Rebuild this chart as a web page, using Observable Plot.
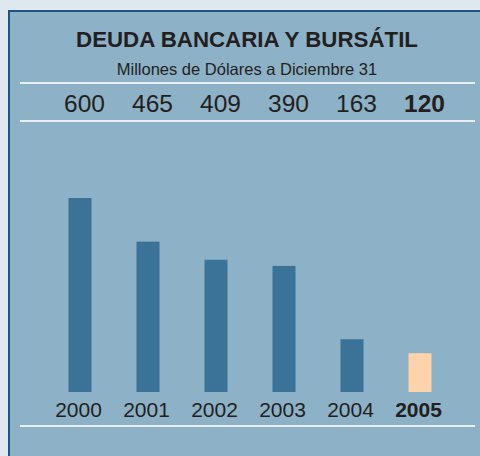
<!DOCTYPE html>
<html>
<head>
<meta charset="utf-8">
<script src="https://cdn.jsdelivr.net/npm/d3@7"></script>
<script src="https://cdn.jsdelivr.net/npm/@observablehq/plot@0.6"></script>
<style>
  html, body { margin: 0; padding: 0; }
  body { width: 480px; height: 456px; background: #dfe7ef; position: relative; overflow: hidden;
         font-family: "Liberation Sans", Arial, sans-serif; color: #231f20; }
  #panel { position: absolute; left: 8px; top: 10px; width: 490px; height: 470px;
           background: #8db1c6; border-top: 2.5px solid #1f5285; border-left: 2.5px solid #1f5285; box-sizing: border-box; }
  .title { position: absolute; left: 0; width: 494px; top: 29px; text-align: center;
           font-weight: bold; font-size: 22.3px; line-height: 1; }
  .subtitle { position: absolute; left: 0; width: 494px; top: 61px; text-align: center;
              font-size: 16.5px; line-height: 1; }
  .rule { position: absolute; left: 20px; width: 455px; height: 2px; background: #e9f0f5; }
  #chart { position: absolute; left: 0; top: 0; }
</style>
</head>
<body>
<div id="panel"></div>
<div class="title">DEUDA BANCARIA Y BURSÁTIL</div>
<div class="subtitle">Millones de Dólares a Diciembre 31</div>
<div class="rule" style="top:82px"></div>
<div class="rule" style="top:120px"></div>
<div class="rule" style="top:425px"></div>
<div id="chart"></div>
<script>
const years = ["2000", "2001", "2002", "2003", "2004", "2005"];
const values = [600, 465, 409, 390, 163, 120];
const highlightYear = "2005";

const data = years.map((y, i) => ({year: y, value: values[i], kind: y === highlightYear ? "highlight" : "normal"}));
const normal = data.filter(d => d.kind === "normal");
const hi = data.filter(d => d.kind === "highlight");

const chart = Plot.plot({
  width: 480,
  height: 456,
  marginTop: 198,
  marginBottom: 64,
  marginLeft: 46,
  marginRight: 26,
  style: {background: "transparent", fontFamily: "'Liberation Sans', Arial, sans-serif", overflow: "visible"},
  x: {domain: years, padding: 0, axis: null},
  y: {domain: [0, 600], axis: null},
  color: {domain: ["normal", "highlight"], range: ["#3a7298", "#fdd3ab"]},
  marks: [
    Plot.barY(data, {x: "year", y: "value", fill: "kind", insetLeft: 22.5, insetRight: 22.5}),
    Plot.text(normal, {x: "year", text: d => String(d.value), frameAnchor: "top", lineAnchor: "bottom", dy: -87, dx: 4, fontSize: 24.5, fill: "#231f20"}),
    Plot.text(hi, {x: "year", text: d => String(d.value), frameAnchor: "top", lineAnchor: "bottom", dy: -87, dx: 4, fontSize: 24.5, fontWeight: "bold", fill: "#231f20"}),
    Plot.text(normal, {x: "year", text: "year", frameAnchor: "bottom", lineAnchor: "bottom", dy: 24, dx: -2, fontSize: 21, fill: "#231f20"}),
    Plot.text(hi, {x: "year", text: "year", frameAnchor: "bottom", lineAnchor: "bottom", dy: 24, dx: -2, fontSize: 21, fontWeight: "bold", fill: "#231f20"})
  ]
});
document.getElementById("chart").appendChild(chart);
</script>
</body>
</html>
